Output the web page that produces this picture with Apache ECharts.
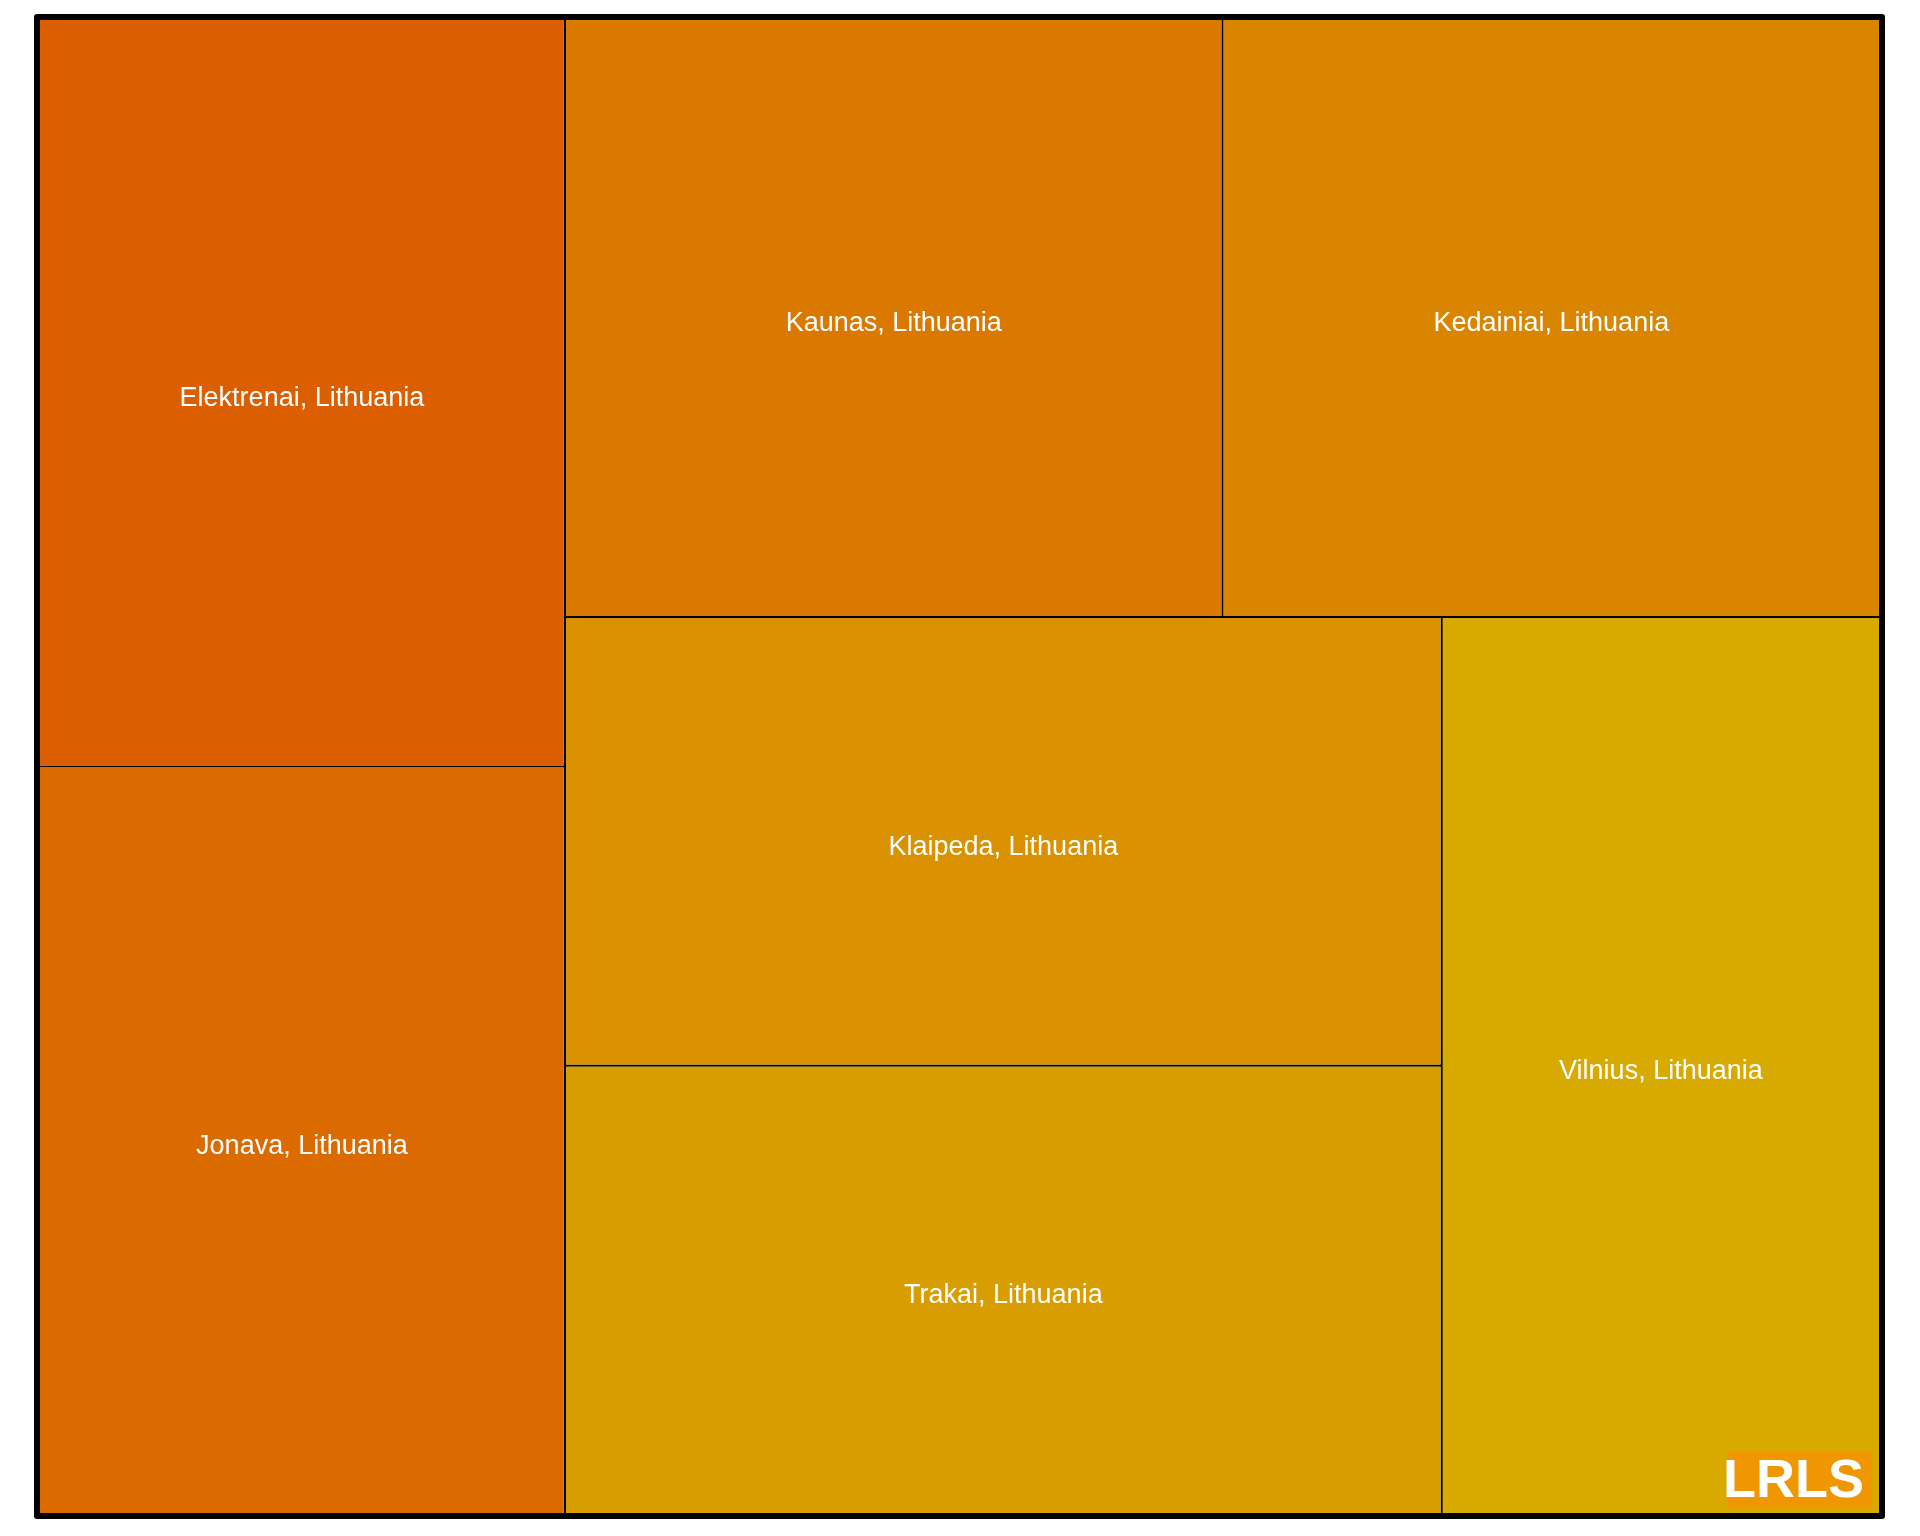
<!DOCTYPE html>
<html>
<head>
<meta charset="utf-8">
<script src="https://cdn.jsdelivr.net/npm/echarts@6/dist/echarts.min.js"></script>
<style>
html,body{margin:0;padding:0;background:#fff;}
#chart{width:1920px;height:1536px;}
</style>
</head>
<body>
<div id="chart"></div>
<script>
const names = ['Elektrenai, Lithuania','Jonava, Lithuania','Kaunas, Lithuania','Kedainiai, Lithuania','Klaipeda, Lithuania','Trakai, Lithuania','Vilnius, Lithuania'];
const values = [1, 1, 1, 1, 1, 1, 1];
const palette = ['#DB5E00','#DB6B00','#DB7800','#DA8500','#D99100','#D89D00','#D8AA00'];

const chart = echarts.init(document.getElementById('chart'), null, {renderer:'canvas'});
const data = names.map((n,i)=>({name:n, value:values[i], itemStyle:{color:palette[i]}}));

chart.setOption({
  animation:false,
  series:[{
    type:'treemap',
    left:34, top:14, width:1851, height:1505,
    roam:false, nodeClick:false,
    breadcrumb:{show:false},
    squareRatio:1,
    sort:false,
    label:{show:true, position:'inside', align:'center', verticalAlign:'middle', offset:[0,6], color:'#fff', fontSize:27, fontFamily:'"Liberation Sans", Arial, sans-serif'},
    upperLabel:{show:false},
    levels:[
      {itemStyle:{borderColor:'#000', borderWidth:6, gapWidth:2.2, borderRadius:3}},
      {itemStyle:{borderWidth:0, gapWidth:0}}
    ],
    data:data
  }],
  graphic:[
    {type:'rect', shape:{x:1727, y:1452, width:145, height:55}, style:{fill:'#F09600'}, z:100},
    {type:'text', x:1723, y:1482, style:{text:'LRLS', fill:'#fff', font:'bold 54px "Liberation Sans", Arial, sans-serif', textAlign:'left', textVerticalAlign:'middle', verticalAlign:'middle'}, z:101}
  ]
});
</script>
</body>
</html>
